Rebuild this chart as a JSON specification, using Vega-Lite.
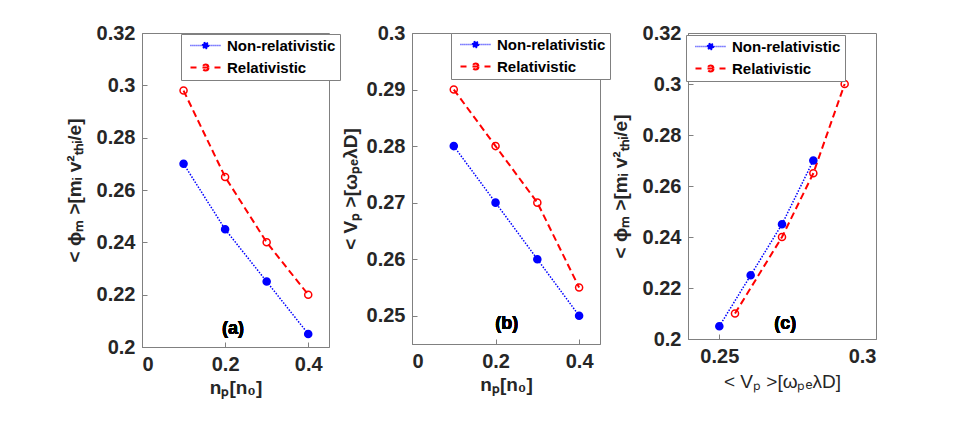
{
  "$schema": "https://vega.github.io/schema/vega-lite/v6.json",
  "background": "white",
  "padding": {"left": 64, "top": 22, "right": 5, "bottom": 5},
  "spacing": -1,
  "config": {
    "view": {"stroke": "#808080", "strokeWidth": 1},
    "axis": {
      "grid": false,
      "labelFont": "Liberation Sans", "labelFontWeight": "bold", "labelFontSize": 20, "labelColor": "#262626",
      "titleFont": "Liberation Sans", "titleFontWeight": "bold", "titleFontSize": 19, "titleColor": "#262626",
      "domainColor": "#808080", "tickColor": "#808080", "tickSize": -5, "labelPadding": 12, "format": "~g"
    },
    "legend": {
      "title": null, "orient": "none",
      "labelFont": "Liberation Sans", "labelFontWeight": "bold", "labelFontSize": 15, "labelColor": "#000000",
      "strokeColor": "#808080", "fillColor": "white", "padding": 4,
      "symbolSize": 36, "symbolOffset": 13, "labelOffset": 14, "rowPadding": 6
    }
  },
  "datasets": {
    "a": [
      {"np": 0.1, "phi": 0.27, "series": "Non-relativistic"},
      {"np": 0.2, "phi": 0.245, "series": "Non-relativistic"},
      {"np": 0.3, "phi": 0.225, "series": "Non-relativistic"},
      {"np": 0.4, "phi": 0.205, "series": "Non-relativistic"},
      {"np": 0.1, "phi": 0.298, "series": "Relativistic"},
      {"np": 0.2, "phi": 0.265, "series": "Relativistic"},
      {"np": 0.3, "phi": 0.24, "series": "Relativistic"},
      {"np": 0.4, "phi": 0.22, "series": "Relativistic"}
    ],
    "b": [
      {"np": 0.1, "vp": 0.28, "series": "Non-relativistic"},
      {"np": 0.2, "vp": 0.27, "series": "Non-relativistic"},
      {"np": 0.3, "vp": 0.26, "series": "Non-relativistic"},
      {"np": 0.4, "vp": 0.25, "series": "Non-relativistic"},
      {"np": 0.1, "vp": 0.29, "series": "Relativistic"},
      {"np": 0.2, "vp": 0.28, "series": "Relativistic"},
      {"np": 0.3, "vp": 0.27, "series": "Relativistic"},
      {"np": 0.4, "vp": 0.255, "series": "Relativistic"}
    ],
    "c": [
      {"vp": 0.25, "phi": 0.205, "series": "Non-relativistic"},
      {"vp": 0.26, "phi": 0.225, "series": "Non-relativistic"},
      {"vp": 0.27, "phi": 0.245, "series": "Non-relativistic"},
      {"vp": 0.28, "phi": 0.27, "series": "Non-relativistic"},
      {"vp": 0.255, "phi": 0.21, "series": "Relativistic"},
      {"vp": 0.27, "phi": 0.24, "series": "Relativistic"},
      {"vp": 0.28, "phi": 0.265, "series": "Relativistic"},
      {"vp": 0.29, "phi": 0.3, "series": "Relativistic"}
    ]
  },
  "hconcat": [
    {
      "width": 187, "height": 314,
      "data": {"name": "a"},
      "encoding": {
        "x": {"field": "np", "type": "quantitative", "title": "nₚ[n₀]",
              "scale": {"domain": [0, 0.45], "nice": false, "zero": false},
              "axis": {"values": [0, 0.2, 0.4], "titlePadding": 4}},
        "y": {"field": "phi", "type": "quantitative", "title": "< ϕₘ >[mᵢ v²ₜₕᵢ/e]",
              "scale": {"domain": [0.2, 0.32], "nice": false, "zero": false},
              "axis": {"values": [0.2, 0.22, 0.24, 0.26, 0.28, 0.3, 0.32], "titlePadding": 12}}
      },
      "layer": [
        {
          "mark": {"type": "line"},
          "encoding": {
            "color": {"field": "series", "type": "nominal",
                      "scale": {"domain": ["Non-relativistic", "Relativistic"], "range": ["#0000FF", "#FF0000"]},
                      "legend": {"legendX": 39, "legendY": 1,
                        "encode": {"symbols": {"update": {
                          "shape": {"signal": "datum.value === 'Non-relativistic' ? 'M-5,0h0.3M-4.33,0h0.3M-3.67,0h0.3M-3,0h0.3M-2.33,0h0.3M-1.67,0h0.3M1.33,0h0.3M2,0h0.3M2.67,0h0.3M3.33,0h0.3M4,0h0.3M4.67,0h0.3M1,0A1,1 0 1,1 -1,0A1,1 0 1,1 1,0Z' : 'M-5,0H-3M3,0H5M-1,0H1M1,0A1,1 0 1,1 -1,0A1,1 0 1,1 1,0Z'"},
                          "fill": {"signal": "datum.value === 'Non-relativistic' ? '#0000FF' : 'transparent'"},
                          "strokeDash": {"value": []},
                          "strokeWidth": {"value": 1.5}
                        }}}}},
            "strokeDash": {"field": "series", "type": "nominal", "legend": null,
                           "scale": {"domain": ["Non-relativistic", "Relativistic"], "range": [[1.5, 1.5], [7, 4]]}},
            "strokeWidth": {"field": "series", "type": "nominal", "legend": null,
                            "scale": {"domain": ["Non-relativistic", "Relativistic"], "range": [1.5, 2]}}
          }
        },
        {
          "mark": {"type": "point", "shape": "circle", "size": 50, "strokeWidth": 1.5, "opacity": 1},
          "encoding": {
            "color": {"field": "series", "type": "nominal"},
            "fill": {"field": "series", "type": "nominal", "legend": null,
                     "scale": {"domain": ["Non-relativistic", "Relativistic"], "range": ["#0000FF", "transparent"]}}
          }
        },
        {
          "mark": {"type": "text", "font": "Liberation Sans", "fontWeight": "bold", "fontSize": 18, "color": "#000000"},
          "encoding": {"x": {"datum": 0.219}, "y": {"datum": 0.207}, "text": {"value": "(a)"}}
        }
      ]
    },
    {
      "width": 188, "height": 311,
      "data": {"name": "b"},
      "encoding": {
        "x": {"field": "np", "type": "quantitative", "title": "nₚ[n₀]",
              "scale": {"domain": [0, 0.45], "nice": false, "zero": false},
              "axis": {"values": [0, 0.2, 0.4], "titlePadding": 4}},
        "y": {"field": "vp", "type": "quantitative", "title": "< Vₚ >[ωₚₑλD]",
              "scale": {"domain": [0.245, 0.3], "nice": false, "zero": false},
              "axis": {"values": [0.25, 0.26, 0.27, 0.28, 0.29, 0.3], "titlePadding": 6}}
      },
      "layer": [
        {
          "mark": {"type": "line"},
          "encoding": {
            "color": {"field": "series", "type": "nominal",
                      "scale": {"domain": ["Non-relativistic", "Relativistic"], "range": ["#0000FF", "#FF0000"]},
                      "legend": {"legendX": 39, "legendY": 0,
                        "encode": {"symbols": {"update": {
                          "shape": {"signal": "datum.value === 'Non-relativistic' ? 'M-5,0h0.3M-4.33,0h0.3M-3.67,0h0.3M-3,0h0.3M-2.33,0h0.3M-1.67,0h0.3M1.33,0h0.3M2,0h0.3M2.67,0h0.3M3.33,0h0.3M4,0h0.3M4.67,0h0.3M1,0A1,1 0 1,1 -1,0A1,1 0 1,1 1,0Z' : 'M-5,0H-3M3,0H5M-1,0H1M1,0A1,1 0 1,1 -1,0A1,1 0 1,1 1,0Z'"},
                          "fill": {"signal": "datum.value === 'Non-relativistic' ? '#0000FF' : 'transparent'"},
                          "strokeDash": {"value": []},
                          "strokeWidth": {"value": 1.5}
                        }}}}},
            "strokeDash": {"field": "series", "type": "nominal", "legend": null,
                           "scale": {"domain": ["Non-relativistic", "Relativistic"], "range": [[1.5, 1.5], [7, 4]]}},
            "strokeWidth": {"field": "series", "type": "nominal", "legend": null,
                            "scale": {"domain": ["Non-relativistic", "Relativistic"], "range": [1.5, 2]}}
          }
        },
        {
          "mark": {"type": "point", "shape": "circle", "size": 50, "strokeWidth": 1.5, "opacity": 1},
          "encoding": {
            "color": {"field": "series", "type": "nominal"},
            "fill": {"field": "series", "type": "nominal", "legend": null,
                     "scale": {"domain": ["Non-relativistic", "Relativistic"], "range": ["#0000FF", "transparent"]}}
          }
        },
        {
          "mark": {"type": "text", "font": "Liberation Sans", "fontWeight": "bold", "fontSize": 18, "color": "#000000"},
          "encoding": {"x": {"datum": 0.227}, "y": {"datum": 0.2485}, "text": {"value": "(b)"}}
        }
      ]
    },
    {
      "width": 188, "height": 306,
      "data": {"name": "c"},
      "encoding": {
        "x": {"field": "vp", "type": "quantitative", "title": "< Vₚ >[ωₚₑλD]",
              "scale": {"domain": [0.24, 0.3], "nice": false, "zero": false},
              "axis": {"values": [0.25, 0.3], "titlePadding": 6, "titleFontWeight": "normal"}},
        "y": {"field": "phi", "type": "quantitative", "title": "< ϕₘ >[mᵢ v²ₜₕᵢ/e]",
              "scale": {"domain": [0.2, 0.32], "nice": false, "zero": false},
              "axis": {"values": [0.2, 0.22, 0.24, 0.26, 0.28, 0.3, 0.32], "titlePadding": 12}}
      },
      "layer": [
        {
          "mark": {"type": "line"},
          "encoding": {
            "color": {"field": "series", "type": "nominal",
                      "scale": {"domain": ["Non-relativistic", "Relativistic"], "range": ["#0000FF", "#FF0000"]},
                      "legend": {"legendX": -2, "legendY": 2,
                        "encode": {"symbols": {"update": {
                          "shape": {"signal": "datum.value === 'Non-relativistic' ? 'M-5,0h0.3M-4.33,0h0.3M-3.67,0h0.3M-3,0h0.3M-2.33,0h0.3M-1.67,0h0.3M1.33,0h0.3M2,0h0.3M2.67,0h0.3M3.33,0h0.3M4,0h0.3M4.67,0h0.3M1,0A1,1 0 1,1 -1,0A1,1 0 1,1 1,0Z' : 'M-5,0H-3M3,0H5M-1,0H1M1,0A1,1 0 1,1 -1,0A1,1 0 1,1 1,0Z'"},
                          "fill": {"signal": "datum.value === 'Non-relativistic' ? '#0000FF' : 'transparent'"},
                          "strokeDash": {"value": []},
                          "strokeWidth": {"value": 1.5}
                        }}}}},
            "strokeDash": {"field": "series", "type": "nominal", "legend": null,
                           "scale": {"domain": ["Non-relativistic", "Relativistic"], "range": [[1.5, 1.5], [7, 4]]}},
            "strokeWidth": {"field": "series", "type": "nominal", "legend": null,
                            "scale": {"domain": ["Non-relativistic", "Relativistic"], "range": [1.5, 2]}}
          }
        },
        {
          "mark": {"type": "point", "shape": "circle", "size": 50, "strokeWidth": 1.5, "opacity": 1},
          "encoding": {
            "color": {"field": "series", "type": "nominal"},
            "fill": {"field": "series", "type": "nominal", "legend": null,
                     "scale": {"domain": ["Non-relativistic", "Relativistic"], "range": ["#0000FF", "transparent"]}}
          }
        },
        {
          "mark": {"type": "text", "font": "Liberation Sans", "fontWeight": "bold", "fontSize": 18, "color": "#000000"},
          "encoding": {"x": {"datum": 0.271}, "y": {"datum": 0.206}, "text": {"value": "(c)"}}
        }
      ]
    }
  ],
  "resolve": {"scale": {"color": "independent", "fill": "independent", "strokeDash": "independent", "strokeWidth": "independent"}}
}
